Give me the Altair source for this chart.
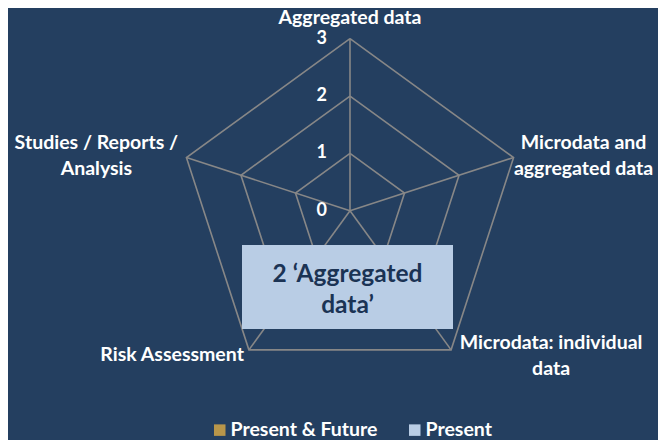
import math
import altair as alt
import pandas as pd

# ---------------- data ----------------
axes_labels = [
    "Aggregated data",
    "Microdata and\naggregated data",
    "Microdata: individual\ndata",
    "Risk Assessment",
    "Studies / Reports /\nAnalysis",
]
tick_values = [0, 1, 2, 3]
series_names = ["Present & Future", "Present"]
present_future = [0, 0, 0, 0, 0]
present = [0, 0, 0, 0, 0]
annotation_text = "2 \u2018Aggregated\ndata\u2019"

# ---------------- styling / layout ----------------
BG = "#243F60"
GRID = "#878787"
FONT = "Lato"
W, H = 650, 432
CX, CY = 342.0, 202.7          # centre of the radar in plot pixels
PPU = 172.0 / 3.0              # pixels per value unit
# offsets (px) of the first text line from the outer vertex
label_offsets = [(0, -20.5), (70, -15), (100, -7), (-5, 5), (-90, -15)]
label_align = ["center", "center", "center", "right", "center"]
box_px = (242 - 8, 245 - 8, 453 - 8, 329 - 8)

n = len(axes_labels)
maxv = max(tick_values)


def ang(i):
    return math.radians(90 - 360.0 / n * i)


def px_to_unit(px, py):
    return (px - CX) / PPU, (CY - py) / PPU


# grid polygons
grid_rows = []
for lvl in tick_values[1:]:
    for k in range(n + 1):
        i = k % n
        grid_rows.append({"level": lvl, "k": k,
                          "x": lvl * math.cos(ang(i)), "y": lvl * math.sin(ang(i))})
grid_df = pd.DataFrame(grid_rows)

spoke_df = pd.DataFrame([{"x": 0.0, "y": 0.0,
                          "x2": maxv * math.cos(ang(i)), "y2": maxv * math.sin(ang(i))}
                         for i in range(n)])

# series polygons
ser_rows = []
for name, vals in zip(series_names, [present_future, present]):
    for k in range(n + 1):
        i = k % n
        ser_rows.append({"series": name, "k": k,
                         "x": vals[i] * math.cos(ang(i)), "y": vals[i] * math.sin(ang(i))})
ser_df = pd.DataFrame(ser_rows)

# axis labels
lab_rows = []
for i, lab in enumerate(axes_labels):
    dx, dy = label_offsets[i]
    lab_rows.append({"label": lab, "align": label_align[i],
                     "x": maxv * math.cos(ang(i)) + dx / PPU,
                     "y": maxv * math.sin(ang(i)) - dy / PPU})
lab_df = pd.DataFrame(lab_rows)

tick_df = pd.DataFrame({"v": tick_values, "t": [str(v) for v in tick_values],
                        "x": [0.0] * len(tick_values)})

bx1, by1 = px_to_unit(box_px[0], box_px[1])
bx2, by2 = px_to_unit(box_px[2], box_px[3])
box_df = pd.DataFrame([{"x": bx1, "y": by1, "x2": bx2, "y2": by2,
                        "tx": (bx1 + bx2) / 2, "ty": (by1 + by2) / 2 + 12.5 / PPU,
                        "text": annotation_text}])

xdom = [-CX / PPU, (W - CX) / PPU]
ydom = [-(H - CY) / PPU, CY / PPU]
xs = alt.Scale(domain=xdom, nice=False, zero=False)
ys = alt.Scale(domain=ydom, nice=False, zero=False)

X = lambda f="x": alt.X(f"{f}:Q", scale=xs, axis=None)
Y = lambda f="y": alt.Y(f"{f}:Q", scale=ys, axis=None)

grid = alt.Chart(grid_df).mark_line(color=GRID, strokeWidth=1.6).encode(
    x=X(), y=Y(), detail="level:N", order="k:Q")
spokes = alt.Chart(spoke_df).mark_rule(color=GRID, strokeWidth=1.6).encode(
    x=X(), y=Y(), x2="x2:Q", y2="y2:Q")

series = alt.Chart(ser_df).mark_line(strokeWidth=2).encode(
    x=X(), y=Y(), order="k:Q",
    color=alt.Color("series:N",
                    scale=alt.Scale(domain=series_names, range=["#B8964A", "#B9CDE5"]),
                    legend=alt.Legend(title=None, orient="none", direction="horizontal",
                                      legendX=202, legendY=412,
                                      symbolType="square", symbolSize=1,
                                      symbolStrokeWidth=10.5, symbolOpacity=1,
                                      labelFont=FONT, labelFontSize=19.5,
                                      labelFontWeight="bold", labelColor="white",
                                      labelOffset=1, columnPadding=15)))

text_style = dict(font=FONT, fontSize=19.5, fontWeight="bold", color="white",
                  baseline="middle", lineBreak="\n", lineHeight=26)
labels_c = alt.Chart(lab_df[lab_df["align"] == "center"]).mark_text(
    align="center", **text_style).encode(x=X(), y=Y(), text="label:N")
labels_r = alt.Chart(lab_df[lab_df["align"] == "right"]).mark_text(
    align="right", **text_style).encode(x=X(), y=Y(), text="label:N")

ticks = alt.Chart(tick_df).mark_text(
    font=FONT, fontSize=18, fontWeight="bold", color="white", align="right",
    baseline="middle", dx=-23).encode(x=X(), y=Y("v"), text="t:N")

box = alt.Chart(box_df).mark_rect(color="#B9CDE5", opacity=1).encode(
    x=X(), y=Y(), x2="x2:Q", y2="y2:Q")
box_text = alt.Chart(box_df).mark_text(
    font=FONT, fontSize=24.5, fontWeight="bold", color="#1B3354", align="center",
    baseline="middle", lineBreak="\n", lineHeight=31).encode(
    x=X("tx"), y=Y("ty"), text="text:N")

chart = alt.layer(grid, spokes, series, ticks, labels_c, labels_r, box, box_text).properties(
    width=W, height=H, background=BG, padding=0,
    autosize=alt.AutoSizeParams(type="none"),
).configure_view(stroke=None)

chart.save("out.html", embed_options={"renderer": "svg", "actions": False})
